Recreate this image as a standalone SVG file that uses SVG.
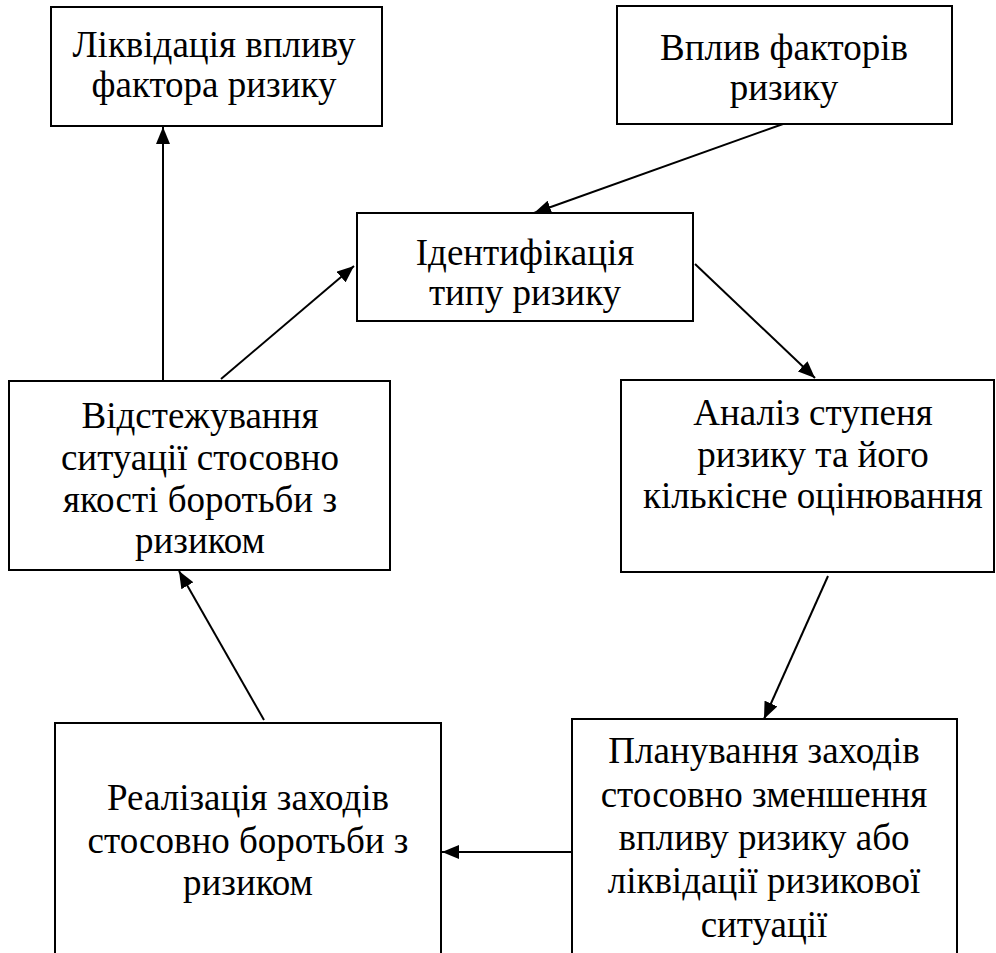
<svg xmlns="http://www.w3.org/2000/svg" width="996" height="953" viewBox="0 0 996 953">
<style>
.box{fill:#fff;stroke:#000;stroke-width:2}
.c{stroke:#000;stroke-width:2;fill:none;marker-end:url(#ah)}
</style>
<defs>
<marker id="ah" markerUnits="userSpaceOnUse" markerWidth="18" markerHeight="14" refX="17" refY="7" orient="auto">
<path d="M0,0 L17,7 L0,14 z" fill="#000"/>
</marker>
</defs>
<g id="n1"><rect class="box" x="51" y="7" width="331" height="119"/>
<text style="font-family:'Liberation Serif',serif !important;font-size:37px" text-anchor="middle" x="214" y="57">Ліквідація впливу</text>
<text style="font-family:'Liberation Serif',serif !important;font-size:37px" text-anchor="middle" x="214" y="97">фактора ризику</text></g>
<g id="n2"><rect class="box" x="617" y="6" width="335" height="118"/>
<text style="font-family:'Liberation Serif',serif !important;font-size:37px" text-anchor="middle" x="784" y="60">Вплив факторів</text>
<text style="font-family:'Liberation Serif',serif !important;font-size:37px" text-anchor="middle" x="784" y="100">ризику</text></g>
<g id="n3"><rect class="box" x="357" y="213" width="336" height="108"/>
<text style="font-family:'Liberation Serif',serif !important;font-size:37px" text-anchor="middle" x="525" y="265">Ідентифікація</text>
<text style="font-family:'Liberation Serif',serif !important;font-size:37px" text-anchor="middle" x="525" y="305">типу ризику</text></g>
<g id="n4"><rect class="box" x="9" y="381" width="381" height="189"/>
<text style="font-family:'Liberation Serif',serif !important;font-size:37px" text-anchor="middle" x="200" y="428">Відстежування</text>
<text style="font-family:'Liberation Serif',serif !important;font-size:37px" text-anchor="middle" x="200" y="470">ситуації стосовно</text>
<text style="font-family:'Liberation Serif',serif !important;font-size:37px" text-anchor="middle" x="200" y="512">якості боротьби з</text>
<text style="font-family:'Liberation Serif',serif !important;font-size:37px" text-anchor="middle" x="200" y="553">ризиком</text></g>
<g id="n5"><rect class="box" x="621" y="380" width="373" height="192"/>
<text style="font-family:'Liberation Serif',serif !important;font-size:37px" text-anchor="middle" x="813" y="425">Аналіз ступеня</text>
<text style="font-family:'Liberation Serif',serif !important;font-size:37px" text-anchor="middle" x="813" y="467">ризику та його</text>
<text style="font-family:'Liberation Serif',serif !important;font-size:37px" text-anchor="middle" x="813" y="508">кількісне оцінювання</text></g>
<g id="n6"><path class="box" d="M55,953 V723 H441 V953"/>
<text style="font-family:'Liberation Serif',serif !important;font-size:37px" text-anchor="middle" x="248" y="810">Реалізація заходів</text>
<text style="font-family:'Liberation Serif',serif !important;font-size:37px" text-anchor="middle" x="248" y="853">стосовно боротьби з</text>
<text style="font-family:'Liberation Serif',serif !important;font-size:37px" text-anchor="middle" x="248" y="895">ризиком</text></g>
<g id="n7"><path class="box" d="M572,953 V719 H957 V953"/>
<text style="font-family:'Liberation Serif',serif !important;font-size:37px" text-anchor="middle" x="764" y="763">Планування заходів</text>
<text style="font-family:'Liberation Serif',serif !important;font-size:37px" text-anchor="middle" x="764" y="807">стосовно зменшення</text>
<text style="font-family:'Liberation Serif',serif !important;font-size:37px" text-anchor="middle" x="764" y="850">впливу ризику або</text>
<text style="font-family:'Liberation Serif',serif !important;font-size:37px" text-anchor="middle" x="764" y="893">ліквідації ризикової</text>
<text style="font-family:'Liberation Serif',serif !important;font-size:37px" text-anchor="middle" x="764" y="937">ситуації</text></g>
<g id="connectors">
<line class="c" x1="163" y1="381" x2="163" y2="127"/>
<line class="c" x1="221" y1="379" x2="354" y2="266"/>
<line class="c" x1="783" y1="124" x2="534" y2="213"/>
<line class="c" x1="695" y1="264" x2="815" y2="378"/>
<line class="c" x1="828" y1="576" x2="764" y2="719"/>
<line class="c" x1="571" y1="852" x2="442" y2="852"/>
<line class="c" x1="264" y1="720" x2="179" y2="571"/>
</g>
</svg>
